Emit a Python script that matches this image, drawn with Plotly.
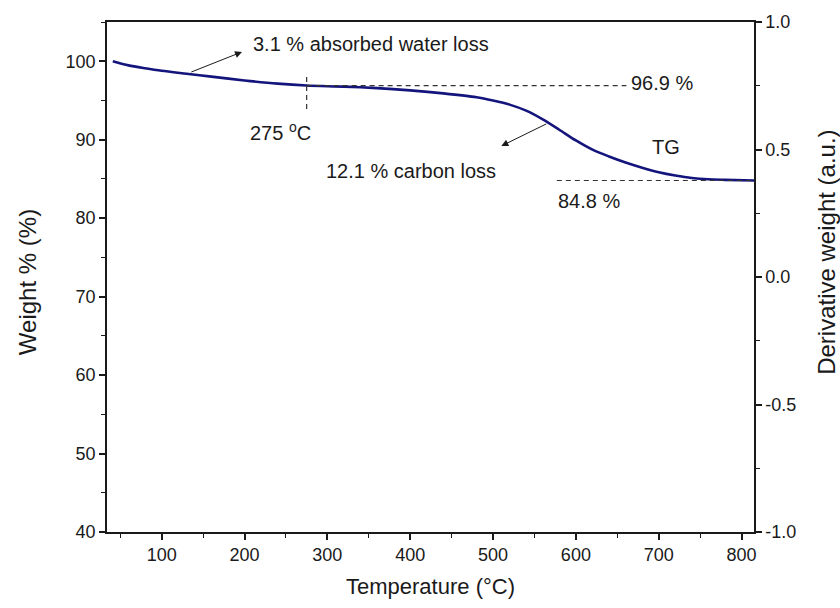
import plotly.graph_objects as go

# TG curve (temperature in °C, residual weight in %)
temperature = [41, 60, 80, 100, 130, 160, 200, 240, 275, 320, 360, 400, 440, 480,
               500, 520, 540, 560, 580, 600, 620, 640, 660, 680, 700, 720, 740,
               760, 780, 815]
weight = [100.0, 99.47, 99.1, 98.78, 98.41, 98.04, 97.55, 97.14, 96.9, 96.76, 96.57,
          96.28, 95.9, 95.41, 94.99, 94.47, 93.7, 92.59, 91.27, 89.9, 88.73, 87.86,
          87.09, 86.43, 85.86, 85.44, 85.12, 84.95, 84.88, 84.8]

# reference levels
onset_temp = 275
plateau_after_water = 96.9
final_residue = 84.8
water_loss = 3.1
carbon_loss = 12.1

x_ticks = [100, 200, 300, 400, 500, 600, 700, 800]
left_ticks = [40, 50, 60, 70, 80, 90, 100]
right_ticks = [-1.0, -0.5, 0.0, 0.5, 1.0]
right_tick_text = ["-1.0", "-0.5", "0.0", "0.5", "1.0"]

FONT = "Liberation Sans, Arial, sans-serif"
INK = "#1a1a1a"
CURVE = "#14147d"

fig = go.Figure()

fig.add_trace(go.Scatter(
    x=temperature, y=weight, mode="lines",
    line=dict(color=CURVE, width=2.6, shape="spline", smoothing=0.8),
    showlegend=False, hoverinfo="skip"))

# empty trace so the derivative axis is drawn
fig.add_trace(go.Scatter(x=[], y=[], yaxis="y2", showlegend=False))

dash = dict(color="#333333", width=1.2, dash="5px,4px")
# horizontal guide at the post-water plateau
fig.add_shape(type="line", xref="x", yref="y", x0=onset_temp, x1=661,
              y0=plateau_after_water, y1=plateau_after_water, line=dash)
# vertical guide at the onset temperature
fig.add_shape(type="line", xref="x", yref="y", x0=onset_temp, x1=onset_temp,
              y0=98.0, y1=93.5, line=dash)
# horizontal guide at the final residue
fig.add_shape(type="line", xref="x", yref="y", x0=577, x1=815,
              y0=final_residue, y1=final_residue, line=dash)

ann_font = dict(family=FONT, size=20, color=INK)
annotations = [
    dict(x=353, y=102.17, text=f"{water_loss} % absorbed water loss", showarrow=False),
    dict(x=243, y=91.1, text=f"{onset_temp} <sup>o</sup>C", showarrow=False),
    dict(x=401, y=86.0, text=f"{carbon_loss} % carbon loss", showarrow=False),
    dict(x=704, y=97.2, text=f"{plateau_after_water} %", showarrow=False),
    dict(x=709, y=89.1, text="TG", showarrow=False),
    dict(x=616, y=82.17, text=f"{final_residue} %", showarrow=False),
    # arrows
    dict(x=197, y=101.19, ax=134, ay=98.55, xref="x", yref="y", axref="x", ayref="y",
         text="", showarrow=True, arrowhead=2, arrowsize=1.4, arrowwidth=1, arrowcolor=INK),
    dict(x=510, y=89.2, ax=566, ay=92.1, xref="x", yref="y", axref="x", ayref="y",
         text="", showarrow=True, arrowhead=2, arrowsize=1.4, arrowwidth=1, arrowcolor=INK),
]
for a in annotations:
    a.setdefault("xref", "x")
    a.setdefault("yref", "y")
    a["font"] = ann_font
    fig.add_annotation(**a)

# vertical axis titles
title_font = dict(family=FONT, size=24, color=INK)
fig.add_annotation(x=-0.1236, y=0.49, xref="paper", yref="paper", text="Weight % (%)",
                   textangle=-90, showarrow=False, font=title_font,
                   xanchor="center", yanchor="middle")
fig.add_annotation(x=1.111, y=0.549, xref="paper", yref="paper",
                   text="Derivative weight (a.u.)", textangle=-90, showarrow=False,
                   font=title_font, xanchor="center", yanchor="middle")

axis_common = dict(
    showline=True, linecolor=INK, linewidth=1.5, ticks="outside", ticklen=6,
    tickwidth=1.5, tickcolor=INK, showgrid=False, zeroline=False,
    tickfont=dict(family=FONT, size=18, color=INK),
)

fig.update_layout(
    width=840, height=608,
    margin=dict(l=107, r=86, t=22, b=76),
    paper_bgcolor="white", plot_bgcolor="white",
    xaxis=dict(
        **axis_common, range=[34, 815], tickvals=x_ticks, mirror=True,
        minor=dict(dtick=50, tick0=0, ticklen=4, tickwidth=1.2, tickcolor=INK, ticks="outside"),
        title=dict(text="Temperature (°C)", font=dict(family=FONT, size=22, color=INK), standoff=14),
    ),
    yaxis=dict(
        **axis_common, range=[40, 105], tickvals=left_ticks,
        minor=dict(dtick=5, tick0=0, ticklen=4, tickwidth=1.2, tickcolor=INK, ticks="outside"),
    ),
    yaxis2=dict(
        **axis_common, range=[-1, 1], tickvals=right_ticks, ticktext=right_tick_text,
        overlaying="y", side="right",
        minor=dict(dtick=0.25, tick0=0, ticklen=4, tickwidth=1.2, tickcolor=INK, ticks="outside"),
    ),
)

fig.write_html("out.html")
